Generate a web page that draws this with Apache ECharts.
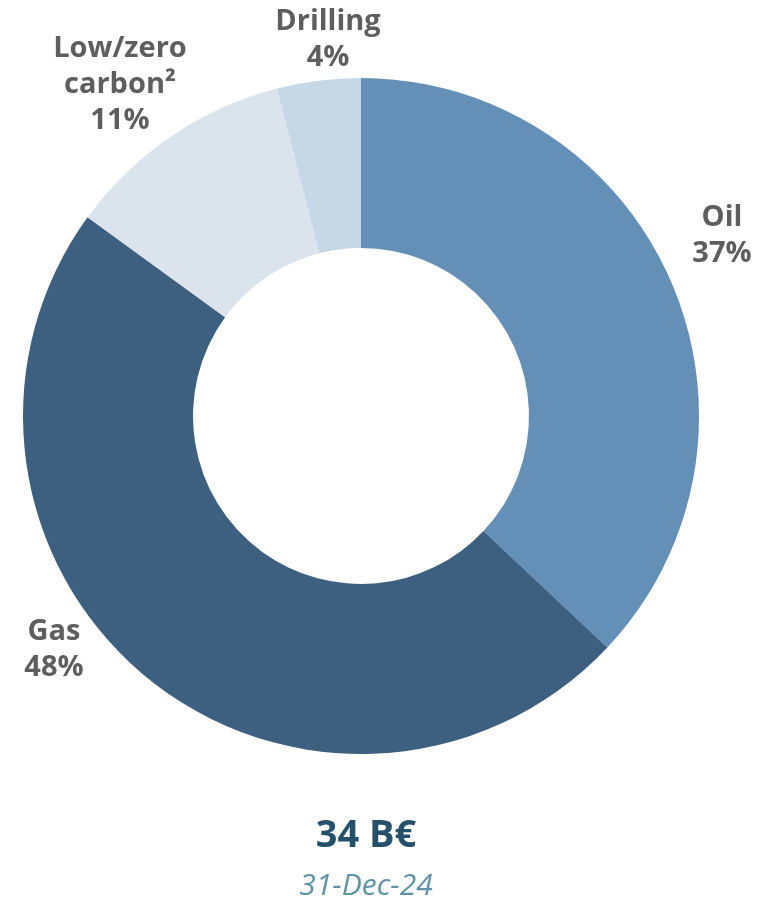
<!DOCTYPE html>
<html>
<head>
<meta charset="utf-8">
<script src="https://cdn.jsdelivr.net/npm/echarts@6/dist/echarts.min.js"></script>
<style>
html,body{margin:0;padding:0;background:#fff;}
#chart{width:769px;height:902px;}
</style>
</head>
<body>
<div id="chart"></div>
<script>
const categories = ["Oil", "Gas", "Low/zero\ncarbon²", "Drilling"];
const shares = [37, 48, 11, 4];
const colors = ["#648FB7", "#3D5F80", "#DBE4ED", "#C6D7E6"];
const totalLabel = "34 B€";
const dateLabel = "31-Dec-24";

// label anchor positions (px) for each slice, in order of categories
const labelPos = [[722, 236], [54, 650], [120, 85], [328, 40]];

const chart = echarts.init(document.getElementById('chart'), null, {renderer: 'canvas'});
const FONT = '"Open Sans", sans-serif';
chart.setOption({
  animation: false,
  title: {
    text: totalLabel,
    subtext: dateLabel,
    left: 361,
    textAlign: 'center',
    top: 812,
    itemGap: 16,
    textStyle: {fontFamily: FONT, fontWeight: 'bold', fontSize: 38, color: '#25506A'},
    subtextStyle: {fontFamily: FONT, fontStyle: 'italic', fontSize: 30, color: '#5F93A8'}
  },
  series: [{
    type: 'pie',
    center: [361, 416],
    radius: [168, 338],
    startAngle: 90,
    clockwise: true,
    silent: true,
    data: categories.map((c, i) => ({name: c, value: shares[i], itemStyle: {color: colors[i]}})),
    label: {
      show: true,
      position: 'outside',
      formatter: p => p.name + '\n' + p.value + '%',
      fontFamily: FONT,
      fontWeight: 'bold',
      fontSize: 29,
      lineHeight: 36,
      color: '#5E5E5E',
      align: 'center',
      overflow: 'none',
      width: 300
    },
    labelLine: {show: false},
    labelLayout: function (params) {
      const p = labelPos[params.dataIndex];
      return {x: p[0], y: p[1], align: 'center', verticalAlign: 'middle', moveOverlap: false, hideOverlap: false};
    }
  }]
});
</script>
</body>
</html>
